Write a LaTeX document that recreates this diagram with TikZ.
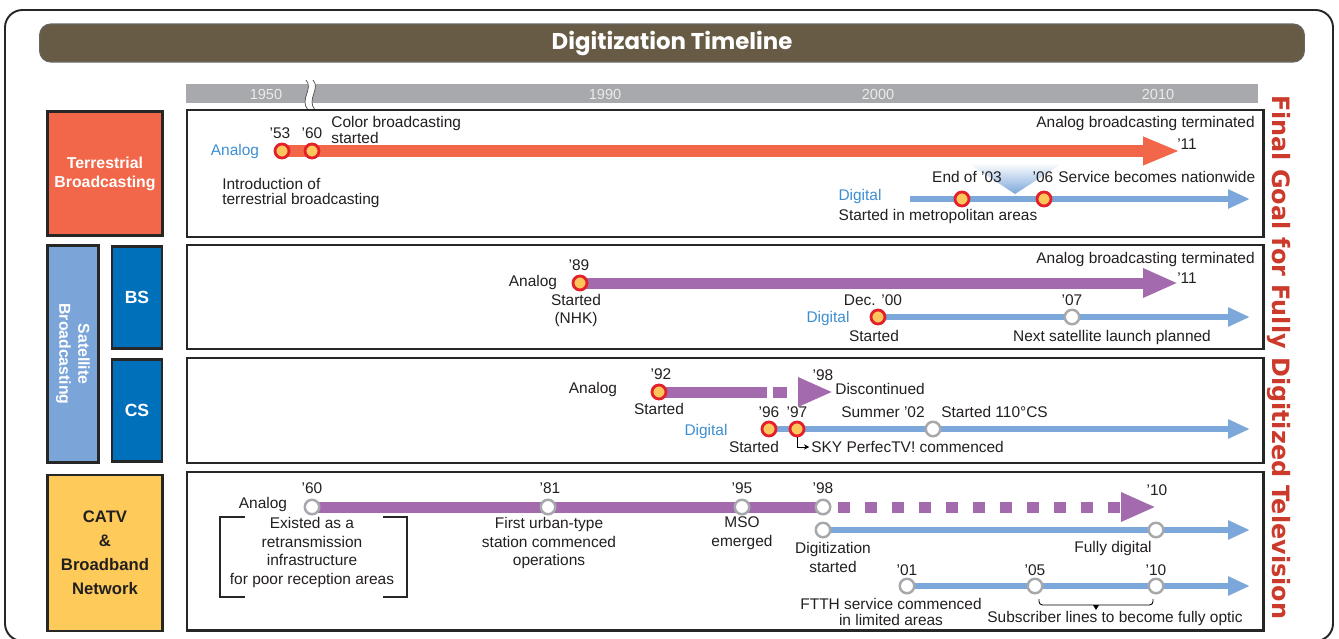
\documentclass[tikz,border=0pt]{standalone}
\usepackage{fontspec}
\setmainfont{Liberation Sans}
\newfontfamily\titlefont{Poppins}
\newfontfamily\goalfont{DejaVu Sans}
\usepackage{xcolor}
\usepackage{tikz}
\usetikzlibrary{arrows.meta,positioning}

\definecolor{titlebrown}{HTML}{685B46}
\definecolor{yeargray}{HTML}{A7A9AC}
\definecolor{terred}{HTML}{F26749}
\definecolor{satblue}{HTML}{7BA5D8}
\definecolor{bsblue}{HTML}{0070BA}
\definecolor{catvyel}{HTML}{FECB5A}
\definecolor{goalred}{HTML}{CC3A2B}
\definecolor{anapurple}{HTML}{A36BAD}
\definecolor{digblue}{HTML}{7BA7DB}
\definecolor{labblue}{HTML}{3D8FD1}
\definecolor{evred}{HTML}{E4202A}
\definecolor{evyel}{HTML}{FDC65C}
\definecolor{evgray}{HTML}{A6A8AB}
\definecolor{inkblack}{HTML}{231F20}

\begin{document}
\begin{tikzpicture}[
  x=0.02cm, y=-0.02cm,
  font=\fontsize{8.8}{10.8}\selectfont,
  every node/.style={inner sep=0pt, text=inkblack},
  side/.style={draw=black!85, line width=1.6pt, text=white, align=center,
    font=\fontsize{9}{10.8}\selectfont\bfseries},
  panel/.style={draw=black!85, line width=1.7pt},
  ev/.style={circle, draw=evred, fill=evyel, line width=1.6pt, minimum size=0.28cm},
  evg/.style={circle, draw=evgray, fill=white, line width=1.4pt, minimum size=0.29cm},
  terbar/.style={draw=terred, line width=0.24cm, -{Triangle[length=0.74cm,width=0.52cm]}},
  anaseg/.style={draw=anapurple, line width=0.22cm},
  anabar/.style={anaseg, -{Triangle[length=0.7cm,width=0.54cm]}},
  digbar/.style={draw=digblue, line width=0.12cm, -{Triangle[length=0.44cm,width=0.36cm]}},
  dig/.style={text=labblue},
  yr/.style={text=white!92!black, font=\fontsize{8.3}{9}\selectfont}
]
\useasboundingbox (0,0) rectangle (1339,639);
\fill[white] (0,0) rectangle (1339,639);
\draw[black!85, line width=1.1pt, rounded corners=0.35cm] (5,10) rectangle (1333,641);

\node[fill=titlebrown, draw=black!60, line width=0.6pt, rounded corners=0.22cm,
  minimum width=25.3cm, minimum height=0.76cm, text=white,
  font=\titlefont\bfseries\fontsize{13}{13}\selectfont] (title) at (672,43) {Digitization Timeline};

\fill[yeargray] (186,84) rectangle (1258,103);
\node[yr] (y1950) at (266,94) {1950};
\node[yr] (y1990) at (605,94) {1990};
\node[yr] (y2000) at (878,94) {2000};
\node[yr] (y2010) at (1158,94) {2010};
\fill[white] (306,80) .. controls (314,89) and (299,99) .. (308,110) -- (315,110)
  .. controls (306,99) and (321,89) .. (313,80) -- cycle;
\draw[black!70, line width=0.4pt] (306,80) .. controls (314,89) and (299,99) .. (308,110);
\draw[black!70, line width=0.4pt] (313,80) .. controls (321,89) and (306,99) .. (315,110);

\draw[panel] (187,110) rectangle (1263,237);
\draw[panel] (187,245) rectangle (1263,349);
\draw[panel] (187,358) rectangle (1263,463);
\draw[panel] (187,472) rectangle (1263,630);

\node[side, fill=terred, minimum width=2.3cm, minimum height=2.48cm] (ter) at (105,173.5) {Terrestrial\\Broadcasting};
\node[side, fill=satblue, rotate=-90, minimum width=4.34cm, minimum height=1.02cm] (sat) at (73,354) {Satellite\\Broadcasting};
\node[side, fill=bsblue, minimum width=1.0cm, minimum height=2.04cm, font=\fontsize{10}{12}\selectfont\bfseries] (bs) at (137,297.5) {BS};
\node[side, fill=bsblue, minimum width=1.0cm, minimum height=2.04cm, font=\fontsize{10}{12}\selectfont\bfseries] (cs) at (137,410.5) {CS};
\node[side, fill=catvyel, text=inkblack, minimum width=2.3cm, minimum height=3.12cm, font=\fontsize{9.5}{13.6}\selectfont\bfseries] (catv) at (105,553) {CATV\\\&\\Broadband\\Network};

\node[rotate=-90, text=goalred, font=\goalfont\bfseries\fontsize{13.6}{14}\selectfont] (goal) at (1279,357) {Final Goal for Fully Digitized Television};

\coordinate (p53) at (282,151);
\coordinate (p60) at (312,151);
\coordinate (p11) at (1180,151);
\draw[terbar] (p53) -- (p11);
\node[ev] (t53) at (p53) {};
\node[ev] (t60) at (p60) {};
\node[dig] (ana1) at (235,152) {Analog};
\node (y53) at (280,133) {'53};
\node (y60) at (312,133) {'60};
\node[anchor=west, align=left, font=\fontsize{8.8}{7.4}\selectfont] (color) at (331,130) {Color broadcasting\\started};
\node[anchor=west, align=left, font=\fontsize{8.8}{9}\selectfont] (intro) at (222,193) {Introduction of\\terrestrial broadcasting};
\node[anchor=east] (term1) at (1255,124) {Analog broadcasting terminated};
\node (y11a) at (1187,144) {'11};
\shade[top color=white, bottom color=digblue] (968,163) -- (1063,163) -- (1015,194) -- cycle;
\coordinate (d1) at (910,199);
\coordinate (e1) at (1250,199);
\draw[digbar] (d1) -- (e1);
\node[ev] (t03) at (962,199) {};
\node[ev] (t06) at (1044,199) {};
\node[dig] (dig1) at (860,197) {Digital};
\node (metro) at (938,217) {Started in metropolitan areas};
\node (eo03) at (967,177) {End of '03};
\node (y06) at (1043,177) {'06};
\node[anchor=west] (nation) at (1058,177) {Service becomes nationwide};

\coordinate (p89) at (580,283);
\coordinate (p11b) at (1178,283);
\draw[anabar] (p89) -- (p11b);
\node[ev] (bs89) at (p89) {};
\node (ana2) at (533,282) {Analog};
\node (y89) at (579,265) {'89};
\node[align=center] (nhk) at (576,310.5) {Started\\(NHK)};
\node[anchor=east] (term2) at (1255,260) {Analog broadcasting terminated};
\node (y11b) at (1187,278) {'11};
\coordinate (p00) at (878,317);
\coordinate (e2) at (1250,317);
\draw[digbar] (p00) -- (e2);
\node[ev] (bs00) at (p00) {};
\node[evg] (bs07) at (1072,317) {};
\node[dig] (dig2) at (828,318) {Digital};
\node (dec00) at (873,300) {Dec. '00};
\node (st2) at (874,336) {Started};
\node (y07) at (1072,300) {'07};
\node (next) at (1112,337) {Next satellite launch planned};

\coordinate (p92) at (659,392);
\coordinate (p98) at (833,392);
\draw[anabar, dash pattern=on 2.16cm off 0.12cm on 0.28cm off 0.3cm] (p92) -- (p98);
\node[ev] (cs92) at (p92) {};
\node (ana3) at (593,389) {Analog};
\node (y92) at (661,374) {'92};
\node (st3) at (659,409) {Started};
\node (y98) at (823,375) {'98};
\node[anchor=west] (disc) at (835,389) {Discontinued};
\coordinate (p96) at (769,429);
\coordinate (e3) at (1250,429);
\draw[digbar] (p96) -- (e3);
\node[ev] (cs96) at (p96) {};
\node[ev] (cs97) at (797,429) {};
\node[evg] (cs02) at (933,429) {};
\node[dig] (dig3) at (706,431) {Digital};
\node (y96) at (769,412) {'96};
\node (y97) at (797,412) {'97};
\node (st4) at (754,447) {Started};
\node[anchor=west] (sky) at (811,447) {SKY PerfecTV! commenced};
\draw[-{Stealth[length=3pt,width=3pt]}, line width=0.5pt, shorten >=1pt] (cs97.south) |- (sky.west);
\node (sum02) at (883,412) {Summer '02};
\node[anchor=west] (s110) at (941,412) {Started 110°CS};

\coordinate (q60) at (312,507);
\coordinate (q98) at (823,507);
\coordinate (q10) at (1156,507);
\draw[anaseg] (q60) -- (q98);
\draw[anabar, dash pattern=on 0.24cm off 0.3cm, dash phase=0.24cm] (q98) -- (q10);
\node[evg] (ca60) at (q60) {};
\node[evg] (ca81) at (548,507) {};
\node[evg] (ca95) at (742,507) {};
\node[evg] (ca98) at (q98) {};
\node (ana4) at (263,504) {Analog};
\node (z60) at (312,488) {'60};
\node (z81) at (550,488) {'81};
\node (z95) at (742,488) {'95};
\node (z98) at (823,488) {'98};
\node (z10) at (1157,490) {'10};
\node[align=center] (exist) at (312,552.5) {Existed as a\\retransmission\\infrastructure\\for poor reception areas};
\draw[black!85, line width=1.2pt] (245,517) -| (220,597) -- (245,597);
\draw[black!85, line width=1.2pt] (383,517) -| (407,597) -- (383,597);
\node[align=center] (urban) at (549,543) {First urban-type\\station commenced\\operations};
\node[align=center] (mso) at (742,533.5) {MSO\\emerged};
\coordinate (r98) at (823,530);
\coordinate (e4) at (1250,530);
\draw[digbar] (r98) -- (e4);
\node[evg] (cd98) at (r98) {};
\node[evg] (cd10) at (1156,530) {};
\node[align=center] (digst) at (833,557.5) {Digitization\\started};
\node (full) at (1113,548) {Fully digital};
\coordinate (r01) at (907,586);
\coordinate (e5) at (1250,586);
\draw[digbar] (r01) -- (e5);
\node[evg] (cf01) at (r01) {};
\node[evg] (cf05) at (1035,586) {};
\node[evg] (cf10) at (1156,586) {};
\node (x01) at (907,570) {'01};
\node (x05) at (1035,570) {'05};
\node (x10) at (1156,570) {'10};
\node[align=center, font=\fontsize{8.8}{9}\selectfont] (ftth) at (891,612) {FTTH service commenced\\in limited areas};
\draw[line width=0.5pt, rounded corners=2pt] (1039,599) |- (1153,605) -- (1153,599);
\fill (1093,605) -- (1099,605) -- (1096,610) -- cycle;
\node (subs) at (1115,618) {Subscriber lines to become fully optic};
\end{tikzpicture}
\end{document}
